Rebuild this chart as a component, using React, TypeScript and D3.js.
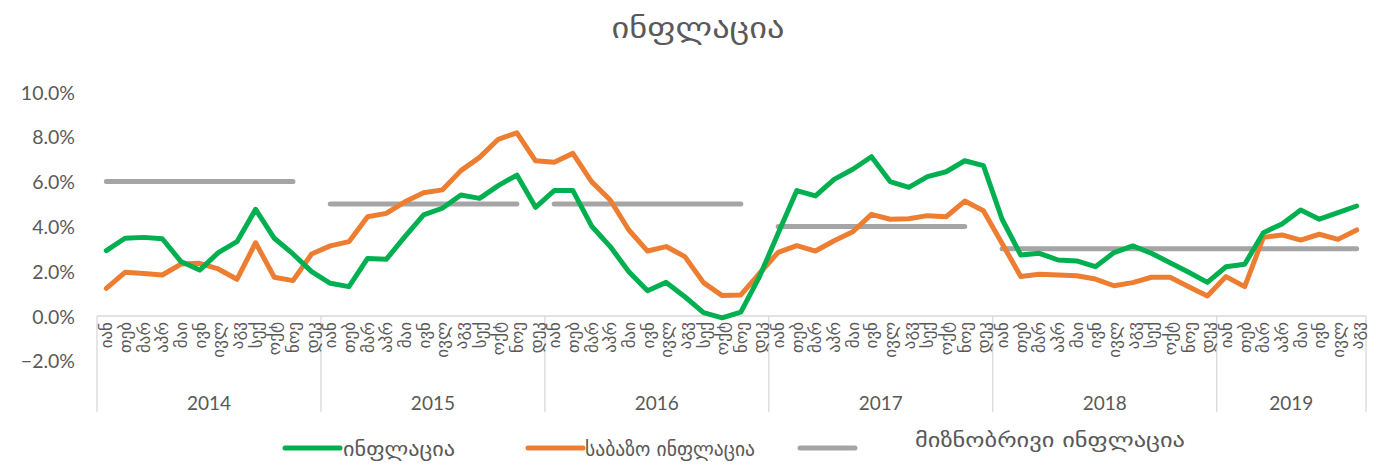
import React from "react";
import * as d3 from "d3";

const monthNames = ["იან", "თებ", "მარ", "აპრ", "მაი", "ივნ", "ივლ", "აგვ", "სექ", "ოქტ", "ნოე", "დეკ"];
const years = ["2014", "2015", "2016", "2017", "2018", "2019"];
const monthsPerYear = [12, 12, 12, 12, 12, 8];

const inflation = [
  2.92, 3.47, 3.51, 3.45, 2.43, 2.05, 2.83, 3.32, 4.76, 3.47, 2.77, 1.98,
  1.46, 1.31, 2.57, 2.53, 3.54, 4.51, 4.81, 5.4, 5.25, 5.82, 6.29, 4.85,
  5.6, 5.6, 4.02, 3.1, 1.98, 1.13, 1.5, 0.86, 0.15, -0.08, 0.17, 1.76,
  3.69, 5.6, 5.36, 6.1, 6.55, 7.11, 6.0, 5.74, 6.22, 6.44, 6.93, 6.71,
  4.32, 2.72, 2.8, 2.5, 2.46, 2.2, 2.83, 3.13, 2.8, 2.38, 1.95, 1.5,
  2.2, 2.31, 3.72, 4.11, 4.73, 4.32, 4.61, 4.91,
];

const coreInflation = [
  1.23, 1.95, 1.9, 1.83, 2.32, 2.35, 2.1, 1.64, 3.27, 1.73, 1.58, 2.77,
  3.13, 3.32, 4.43, 4.58, 5.1, 5.5, 5.63, 6.49, 7.08, 7.89, 8.18, 6.93,
  6.86, 7.26, 6.0, 5.18, 3.84, 2.9, 3.1, 2.65, 1.49, 0.91, 0.94, 1.9,
  2.84, 3.14, 2.9, 3.36, 3.76, 4.54, 4.32, 4.34, 4.48, 4.43, 5.13, 4.7,
  3.24, 1.76, 1.86, 1.83, 1.8, 1.65, 1.35, 1.49, 1.73, 1.73, 1.31, 0.89,
  1.76, 1.31, 3.51, 3.62, 3.39, 3.65, 3.42, 3.84,
];

const targetByYear = [6, 5, 5, 4, 3, 3];
// target line shown Jan–Nov for 2014–2017, continuous from 2018
const targetGapMonth = [true, true, true, true, false, false];

const yTicks = [-2, 0, 2, 4, 6, 8, 10];

const legendItems = [
  { label: "ინფლაცია", color: "#00B050" },
  { label: "საბაზო ინფლაცია", color: "#ED7D31" },
  { label: "მიზნობრივი ინფლაცია", color: "#A5A5A5" },
];

const TEXT = "#595959";
const FONT = "Lato, 'DejaVu Sans', sans-serif";
const GEO = "'DejaVu Sans', sans-serif";

type Cat = { key: string; month: string; yearIdx: number; m: number };

const cats: Cat[] = [];
years.forEach((y, yi) => {
  for (let m = 0; m < monthsPerYear[yi]; m++) {
    cats.push({ key: `${y}-${m}`, month: monthNames[m], yearIdx: yi, m });
  }
});

const target: (number | null)[] = cats.map((c) =>
  targetGapMonth[c.yearIdx] && c.m === 11 ? null : targetByYear[c.yearIdx]
);

export default function App() {
  const W = 1396;
  const H = 469;
  const left = 97;
  const right = 1366;
  const x = d3.scaleBand<string>().domain(cats.map((c) => c.key)).range([left, right]).padding(0);
  const y = d3.scaleLinear().domain([0, 10]).range([316, 92]);
  const cx = (i: number) => (x(cats[i].key) as number) + x.bandwidth() / 2;

  const line = d3
    .line<number | null>()
    .defined((d) => d !== null)
    .x((_, i) => cx(i))
    .y((d) => y(d as number));

  const boundaries: number[] = [];
  let acc = 0;
  boundaries.push(x(cats[0].key) as number);
  monthsPerYear.forEach((n) => {
    acc += n;
    boundaries.push(acc < cats.length ? (x(cats[acc].key) as number) : right);
  });

  const legendPos = [
    { x1: 285, x2: 340, tx: 343, ty: 449, tl: 112 },
    { x1: 528, x2: 583, tx: 585, ty: 449, tl: 170 },
    { x1: 800, x2: 855, tx: 915, ty: 440, tl: 270 },
  ];

  return (
    <svg width={W} height={H} style={{ position: "absolute", left: 0, top: 0, background: "#fff" }}>
      <rect width={W} height={H} fill="#fff" />
      <text x={698} y={28} textAnchor="middle" dominantBaseline="central" fill={TEXT}
        style={{ fontFamily: GEO, fontSize: 29 }} textLength={173} lengthAdjust="spacingAndGlyphs">
        ინფლაცია
      </text>

      {/* y axis labels */}
      {yTicks.map((t) => (
        <text key={t} x={75} y={y(t)} textAnchor="end" dominantBaseline="central" fill={TEXT}
          style={{ fontFamily: FONT, fontSize: 19.5 }}>
          {d3.format(".1f")(t) + "%"}
        </text>
      ))}

      {/* category axis */}
      <line x1={left} x2={right} y1={y(0)} y2={y(0)} stroke="#d9d9d9" strokeWidth={1.3} />
      {boundaries.map((b, i) => (
        <line key={i} x1={b} x2={b} y1={y(0)} y2={412} stroke="#d9d9d9" strokeWidth={1.3} />
      ))}
      {cats.map((c, i) => (
        <text key={c.key} transform={`translate(${cx(i)},${y(0) + 6}) rotate(-90)`} textAnchor="end"
          dominantBaseline="central" fill={TEXT} style={{ fontFamily: GEO, fontSize: 17 }}>
          {c.month}
        </text>
      ))}
      {years.map((yr, yi) => (
        <text key={yr} x={(boundaries[yi] + boundaries[yi + 1]) / 2} y={402} textAnchor="middle"
          dominantBaseline="central" fill={TEXT} style={{ fontFamily: FONT, fontSize: 19 }}>
          {yr}
        </text>
      ))}

      {/* series */}
      <path d={line(target) || ""} fill="none" stroke="#A5A5A5" strokeWidth={5} strokeLinecap="round" strokeLinejoin="round" />
      <path d={line(coreInflation) || ""} fill="none" stroke="#ED7D31" strokeWidth={5} strokeLinejoin="round" strokeLinecap="round" />
      <path d={line(inflation) || ""} fill="none" stroke="#00B050" strokeWidth={5} strokeLinejoin="round" strokeLinecap="round" />

      {/* legend */}
      {legendItems.map((it, i) => {
        const p = legendPos[i];
        return (
          <g key={it.label}>
            <line x1={p.x1} x2={p.x2} y1={448} y2={448} stroke={it.color} strokeWidth={5} strokeLinecap="round" />
            <text x={p.tx} y={p.ty} dominantBaseline="central" fill={TEXT}
              style={{ fontFamily: GEO, fontSize: 19 }} textLength={p.tl} lengthAdjust="spacingAndGlyphs">
              {it.label}
            </text>
          </g>
        );
      })}
    </svg>
  );
}
